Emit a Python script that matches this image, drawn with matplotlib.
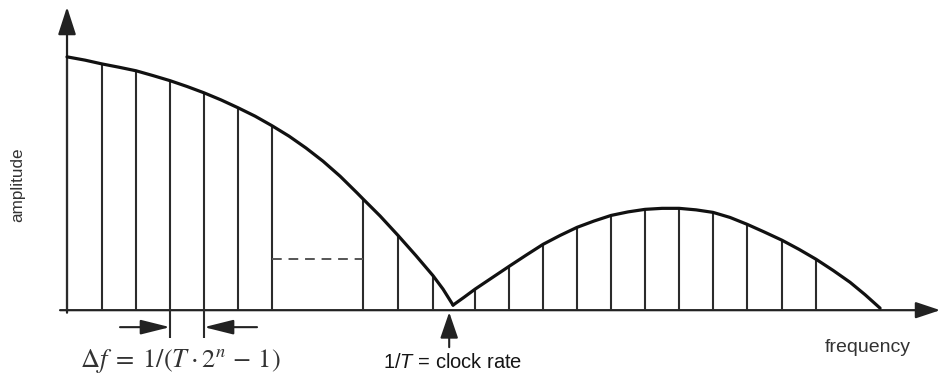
import matplotlib
matplotlib.use("Agg")
import matplotlib.pyplot as plt
from matplotlib.patches import FancyArrowPatch

plt.rcParams['mathtext.fontset'] = 'custom'
plt.rcParams['mathtext.rm'] = 'Liberation Sans'
plt.rcParams['mathtext.it'] = 'Liberation Sans:italic'
plt.rcParams['font.family'] = ['Liberation Sans', 'DejaVu Sans']

# frequency in units of the clock rate (1/T), amplitude normalised to DC = 1
line_freq_left = [0.0, 0.0907, 0.1788, 0.2668, 0.3549, 0.4430, 0.5311, 0.7668, 0.8575, 0.9482]
line_amp_left = [1.0, 0.972, 0.945, 0.906, 0.858, 0.799, 0.728, 0.439, 0.295, 0.136]
line_freq_right = [1.0570, 1.1451, 1.2332, 1.3212, 1.4093, 1.4974, 1.5855, 1.6736, 1.7617, 1.8523, 1.9404]
line_amp_right = [0.083, 0.173, 0.260, 0.327, 0.374, 0.398, 0.402, 0.386, 0.339, 0.276, 0.201]

curve_freq_left = [0.0, 0.0466, 0.0907, 0.1347, 0.1788, 0.2228, 0.2668, 0.3109, 0.3549, 0.3990,
                   0.4430, 0.4870, 0.5311, 0.5751, 0.6192, 0.6632, 0.7073, 0.7513, 0.7668, 0.8109,
                   0.8575, 0.9041, 0.9482, 0.9741, 1.0]
curve_amp_left = [1.0, 0.987, 0.972, 0.959, 0.945, 0.926, 0.906, 0.883, 0.858, 0.830,
                  0.799, 0.766, 0.728, 0.687, 0.640, 0.588, 0.529, 0.463, 0.439, 0.372,
                  0.295, 0.215, 0.136, 0.083, 0.020]
curve_freq_right = [1.0, 1.0285, 1.0570, 1.1010, 1.1451, 1.1891, 1.2332, 1.2772, 1.3212, 1.3653,
                    1.4093, 1.4534, 1.4974, 1.5415, 1.5855, 1.6295, 1.6736, 1.7176, 1.7617, 1.8057,
                    1.8523, 1.8964, 1.9404, 1.9845, 2.0285, 2.0674, 2.1062]
curve_amp_right = [0.020, 0.051, 0.083, 0.128, 0.173, 0.217, 0.260, 0.295, 0.327, 0.352,
                   0.374, 0.388, 0.398, 0.402, 0.402, 0.396, 0.386, 0.366, 0.339, 0.309,
                   0.276, 0.240, 0.201, 0.157, 0.110, 0.061, 0.008]

dashed_level = 0.201
delta_pair = [0.2668, 0.3549]   # the two lines marked with the Δf arrows
clock_freq = 0.995

fig = plt.figure(figsize=(9.41, 3.80), dpi=100)
ax = fig.add_axes([0, 0, 1, 1])
ax.set_xlim(-0.1736, 2.264)
ax.set_ylim(-0.2756, 1.2244)
ax.axis('off')

lc = '#2b2b2b'
# spectral lines
for f, a in zip(line_freq_left + line_freq_right, line_amp_left + line_amp_right):
    bottom = -0.11 if f in delta_pair else 0.0
    ax.plot([f, f], [bottom, a], color=lc, lw=1.5, solid_capstyle='butt')

# envelope
ax.plot(curve_freq_left, curve_amp_left, color='#111111', lw=2.3,
        solid_joinstyle='round', solid_capstyle='round')
ax.plot(curve_freq_right, curve_amp_right, color='#111111', lw=2.3,
        solid_joinstyle='round', solid_capstyle='round')

# dashed level
ax.plot([line_freq_left[6], line_freq_left[7]], [dashed_level, dashed_level],
        color='#555555', lw=1.4, dashes=(5, 3.5))


def arrow(p0, p1, hl, hw, lw=1.5, color='#222222'):
    ax.add_patch(FancyArrowPatch(p0, p1,
                                 arrowstyle=f'-|>,head_length={hl},head_width={hw}',
                                 mutation_scale=1, shrinkA=0, shrinkB=0,
                                 color=color, lw=lw))


# axes
arrow((-0.018, 0.0), (2.262, 0.0), 15, 5, lw=1.6)
arrow((0.0, -0.01), (0.0, 1.197), 17, 5.5, lw=1.6)

# Δf arrows
arrow((0.1373, -0.067), (delta_pair[0], -0.067), 18, 4.5)
arrow((0.4922, -0.067), (delta_pair[1], -0.067), 18, 4.5)

# clock rate arrow
arrow((clock_freq - 0.005, -0.146), (clock_freq - 0.005, -0.008), 16, 5.5)

ax.text(-0.127, 0.496, 'amplitude', rotation=90, ha='center', va='center',
        fontsize=12.3, color='#333333')
ax.text(2.075, -0.146, 'frequency', ha='center', va='center', fontsize=14, color='#333333')
ax.text(clock_freq + 0.005, -0.205, r'1/$\mathit{T}$ = clock rate', ha='center', va='center',
        fontsize=14.5, color='#151515')
ax.text(0.294, -0.201, r'$\Delta f\;=\;1/(T\cdot 2^{n}\,-\,1)$', ha='center', va='center',
        fontsize=19, color='#333333', math_fontfamily='stix')

fig.savefig('out.png', dpi=100)
